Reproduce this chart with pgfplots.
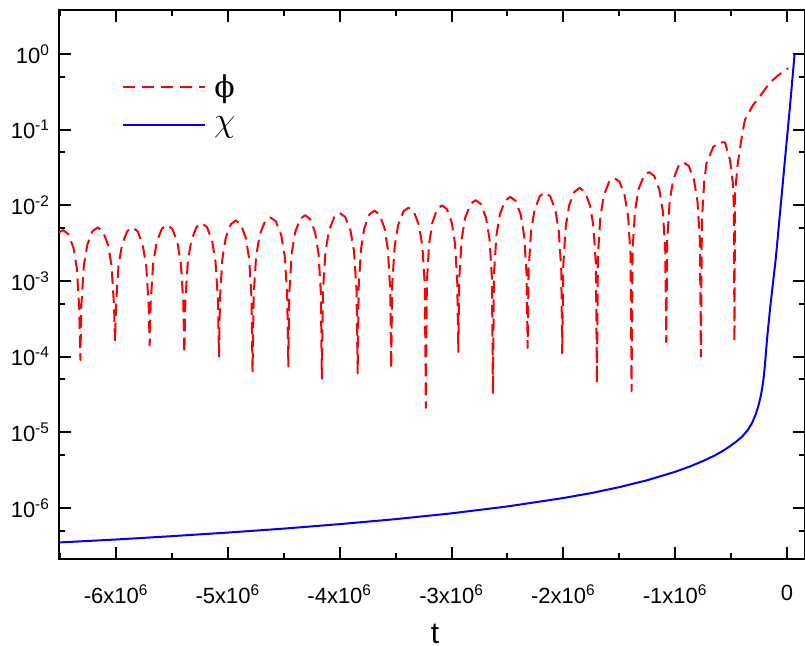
\documentclass[border=0pt]{standalone}
\usepackage{pgfplots}
\pgfplotsset{compat=1.18}
\usepackage{pgfplotstable}
\usepackage{fontspec}
\setmainfont{Liberation Sans}
\newfontfamily\dvs{DejaVu Serif}

\pgfplotstableread{
t v
-6.511 4.40e-3
-6.475 4.70e-3
-6.429 4.19e-3
-6.382 2.76e-3
-6.351 1.45e-3
-6.330 4.4e-4
-6.320 9.0e-5
-6.311 4.8e-4
-6.289 1.58e-3
-6.258 3.0e-3
-6.212 4.54e-3
-6.165 5.1e-3
-6.119 4.54e-3
-6.072 3.0e-3
-6.041 1.58e-3
-6.019 4.8e-4
-6.010 1.6e-4
-6.001 4.8e-4
-5.979 1.58e-3
-5.948 3.0e-3
-5.901 4.54e-3
-5.855 5.1e-3
-5.808 4.54e-3
-5.762 3.0e-3
-5.731 1.58e-3
-5.709 4.8e-4
-5.700 1.4e-4
-5.691 5.2e-4
-5.669 1.70e-3
-5.638 3.23e-3
-5.591 4.90e-3
-5.545 5.5e-3
-5.498 4.90e-3
-5.452 3.23e-3
-5.421 1.70e-3
-5.399 5.2e-4
-5.390 1.1e-4
-5.381 5.5e-4
-5.359 1.79e-3
-5.328 3.41e-3
-5.281 5.17e-3
-5.235 5.8e-3
-5.188 5.17e-3
-5.142 3.41e-3
-5.111 1.79e-3
-5.089 5.5e-4
-5.080 1.0e-4
-5.071 5.9e-4
-5.050 1.95e-3
-5.020 3.70e-3
-4.975 5.61e-3
-4.930 6.3e-3
-4.885 5.61e-3
-4.840 3.70e-3
-4.810 1.95e-3
-4.789 5.9e-4
-4.780 6.2e-5
-4.770 6.5e-4
-4.748 2.13e-3
-4.716 4.06e-3
-4.668 6.15e-3
-4.620 6.9e-3
-4.572 6.15e-3
-4.524 4.06e-3
-4.492 2.13e-3
-4.470 6.5e-4
-4.460 7.4e-5
-4.451 7.0e-4
-4.430 2.29e-3
-4.400 4.35e-3
-4.355 6.59e-3
-4.310 7.4e-3
-4.265 6.59e-3
-4.220 4.35e-3
-4.190 2.29e-3
-4.169 7.0e-4
-4.160 5.1e-5
-4.150 7.4e-4
-4.128 2.44e-3
-4.096 4.65e-3
-4.048 7.04e-3
-4.000 7.9e-3
-3.952 7.04e-3
-3.904 4.65e-3
-3.872 2.44e-3
-3.850 7.4e-4
-3.840 6.0e-5
-3.831 8.0e-4
-3.810 2.63e-3
-3.780 5.0e-3
-3.735 7.57e-3
-3.690 8.5e-3
-3.645 7.57e-3
-3.600 5.0e-3
-3.570 2.63e-3
-3.549 8.0e-4
-3.540 7.0e-5
-3.531 8.7e-4
-3.509 2.87e-3
-3.478 5.47e-3
-3.431 8.29e-3
-3.385 9.3e-3
-3.338 8.29e-3
-3.292 5.47e-3
-3.261 2.87e-3
-3.239 8.7e-4
-3.230 2.1e-5
-3.221 9.4e-4
-3.201 3.09e-3
-3.172 5.88e-3
-3.129 8.91e-3
-3.085 1.0e-2
-3.042 8.91e-3
-2.998 5.88e-3
-2.969 3.09e-3
-2.949 9.4e-4
-2.940 1.15e-4
-2.931 1.10e-3
-2.909 3.62e-3
-2.878 6.88e-3
-2.831 1.04e-2
-2.785 1.17e-2
-2.738 1.04e-2
-2.692 6.88e-3
-2.661 3.62e-3
-2.639 1.10e-3
-2.630 3.2e-5
-2.621 1.21e-3
-2.599 3.99e-3
-2.568 7.59e-3
-2.521 1.15e-2
-2.475 1.29e-2
-2.428 1.15e-2
-2.382 7.59e-3
-2.351 3.99e-3
-2.329 1.21e-3
-2.320 1.3e-4
-2.311 1.39e-3
-2.289 4.57e-3
-2.258 8.70e-3
-2.211 1.32e-2
-2.165 1.48e-2
-2.118 1.32e-2
-2.072 8.70e-3
-2.041 4.57e-3
-2.019 1.39e-3
-2.010 1.1e-4
-2.001 1.60e-3
-1.979 5.25e-3
-1.948 1.0e-2
-1.901 1.51e-2
-1.855 1.7e-2
-1.808 1.51e-2
-1.762 1.0e-2
-1.731 5.25e-3
-1.709 1.60e-3
-1.700 4.4e-5
-1.691 2.16e-3
-1.669 7.11e-3
-1.638 1.35e-2
-1.591 2.05e-2
-1.545 2.3e-2
-1.498 2.05e-2
-1.452 1.35e-2
-1.421 7.11e-3
-1.399 2.16e-3
-1.390 3.5e-5
-1.381 2.59e-3
-1.359 8.50e-3
-1.328 1.62e-2
-1.281 2.45e-2
-1.235 2.75e-2
-1.188 2.45e-2
-1.142 1.62e-2
-1.111 8.50e-3
-1.089 2.59e-3
-1.080 1.55e-4
-1.071 3.48e-3
-1.049 1.14e-2
-1.018 2.18e-2
-0.971 3.30e-2
-0.925 3.7e-2
-0.878 3.30e-2
-0.832 2.18e-2
-0.801 1.14e-2
-0.779 3.48e-3
-0.770 1.0e-4
-0.761 6.4e-3
-0.740 2.1e-2
-0.720 3.6e-2
-0.660 5.9e-2
-0.600 6.8e-2
-0.555 6.8e-2
-0.510 4.0e-2
-0.484 1.95e-2
-0.475 9.3e-3
-0.470 1.55e-4
-0.465 1.45e-2
-0.440 3.6e-2
-0.400 8.9e-2
-0.376 0.135
-0.305 0.21
-0.224 0.30
-0.152 0.42
-0.081 0.52
0.010 0.65
}\phidata

\pgfplotstableread{
t v
-6.511 3.49e-7
-6.0 3.82e-7
-5.5 4.23e-7
-5.0 4.72e-7
-4.5 5.32e-7
-4.0 6.10e-7
-3.5 7.10e-7
-3.0 8.47e-7
-2.5 1.045e-6
-2.0 1.35e-6
-1.75 1.57e-6
-1.5 1.88e-6
-1.25 2.32e-6
-1.0 3.0e-6
-0.87 3.52e-6
-0.75 4.17e-6
-0.65 4.9e-6
-0.57 5.7e-6
-0.50 6.7e-6
-0.45 7.6e-6
-0.40 8.8e-6
-0.35 1.07e-5
-0.31 1.35e-5
-0.28 1.72e-5
-0.255 2.25e-5
-0.235 3.0e-5
-0.222 3.8e-5
-0.21 5.1e-5
-0.20 7.0e-5
-0.19 1.05e-4
-0.18 1.6e-4
-0.165 2.7e-4
-0.15 4.5e-4
-0.10 2.0e-3
-0.03 2.6e-2
0.03 0.23
0.068 1.0
}\chidata

\begin{document}
\begin{tikzpicture}
\path[use as bounding box] (-29.5pt,-43.5pt) rectangle (373pt,279.5pt);
\begin{axis}[
  scale only axis, width=373pt, height=274.5pt,
  xmin=-6.511, xmax=0.161,
  ymode=log, ymin=2.11e-7, ymax=3.82,
  axis line style={line width=1pt},
  every tick/.style={black, line width=1pt},
  major tick length=6pt, minor tick length=3pt,
  tick align=inside,
  xtick={-6,-5,-4,-3,-2,-1,0},
  xticklabels={-6x10\textsuperscript{6},-5x10\textsuperscript{6},-4x10\textsuperscript{6},-3x10\textsuperscript{6},-2x10\textsuperscript{6},-1x10\textsuperscript{6},0},
  minor xtick={-6.5,-5.5,-4.5,-3.5,-2.5,-1.5,-0.5},
  ytick={1e-6,1e-5,1e-4,1e-3,1e-2,1e-1,1},
  yticklabels={10\textsuperscript{-6},10\textsuperscript{-5},10\textsuperscript{-4},10\textsuperscript{-3},10\textsuperscript{-2},10\textsuperscript{-1},10\textsuperscript{0}},
  minor ytick={5e-7,5e-6,5e-5,5e-4,5e-3,5e-2,0.5},
  tick label style={font=\fontsize{11}{12}\selectfont},
  xticklabel style={yshift=-9.5pt},
  yticklabel style={xshift=-1pt},
  xlabel={t},
  xlabel style={font=\fontsize{15}{18}\selectfont, at={(axis description cs:0.504,-0.1356)}, anchor=center, inner sep=0pt},
  legend style={draw=none, fill=none, at={(axis description cs:0.076,0.898)}, anchor=north west, font=\fontsize{16}{18}\selectfont, row sep=4pt, column sep=2pt},
  legend image code/.code={\draw[#1] (0pt,0pt) -- (41pt,0pt);},
]
\addplot[red, line width=1pt, dash pattern=on 6.2pt off 3.3pt, line join=round] table {\phidata};
\addlegendentry{{\dvs\fontsize{15}{18}\selectfont ϕ}}
\addplot[blue, line width=1pt, line join=round] table {\chidata};
\addlegendentry{$\chi$}
\end{axis}
\end{tikzpicture}
\end{document}
